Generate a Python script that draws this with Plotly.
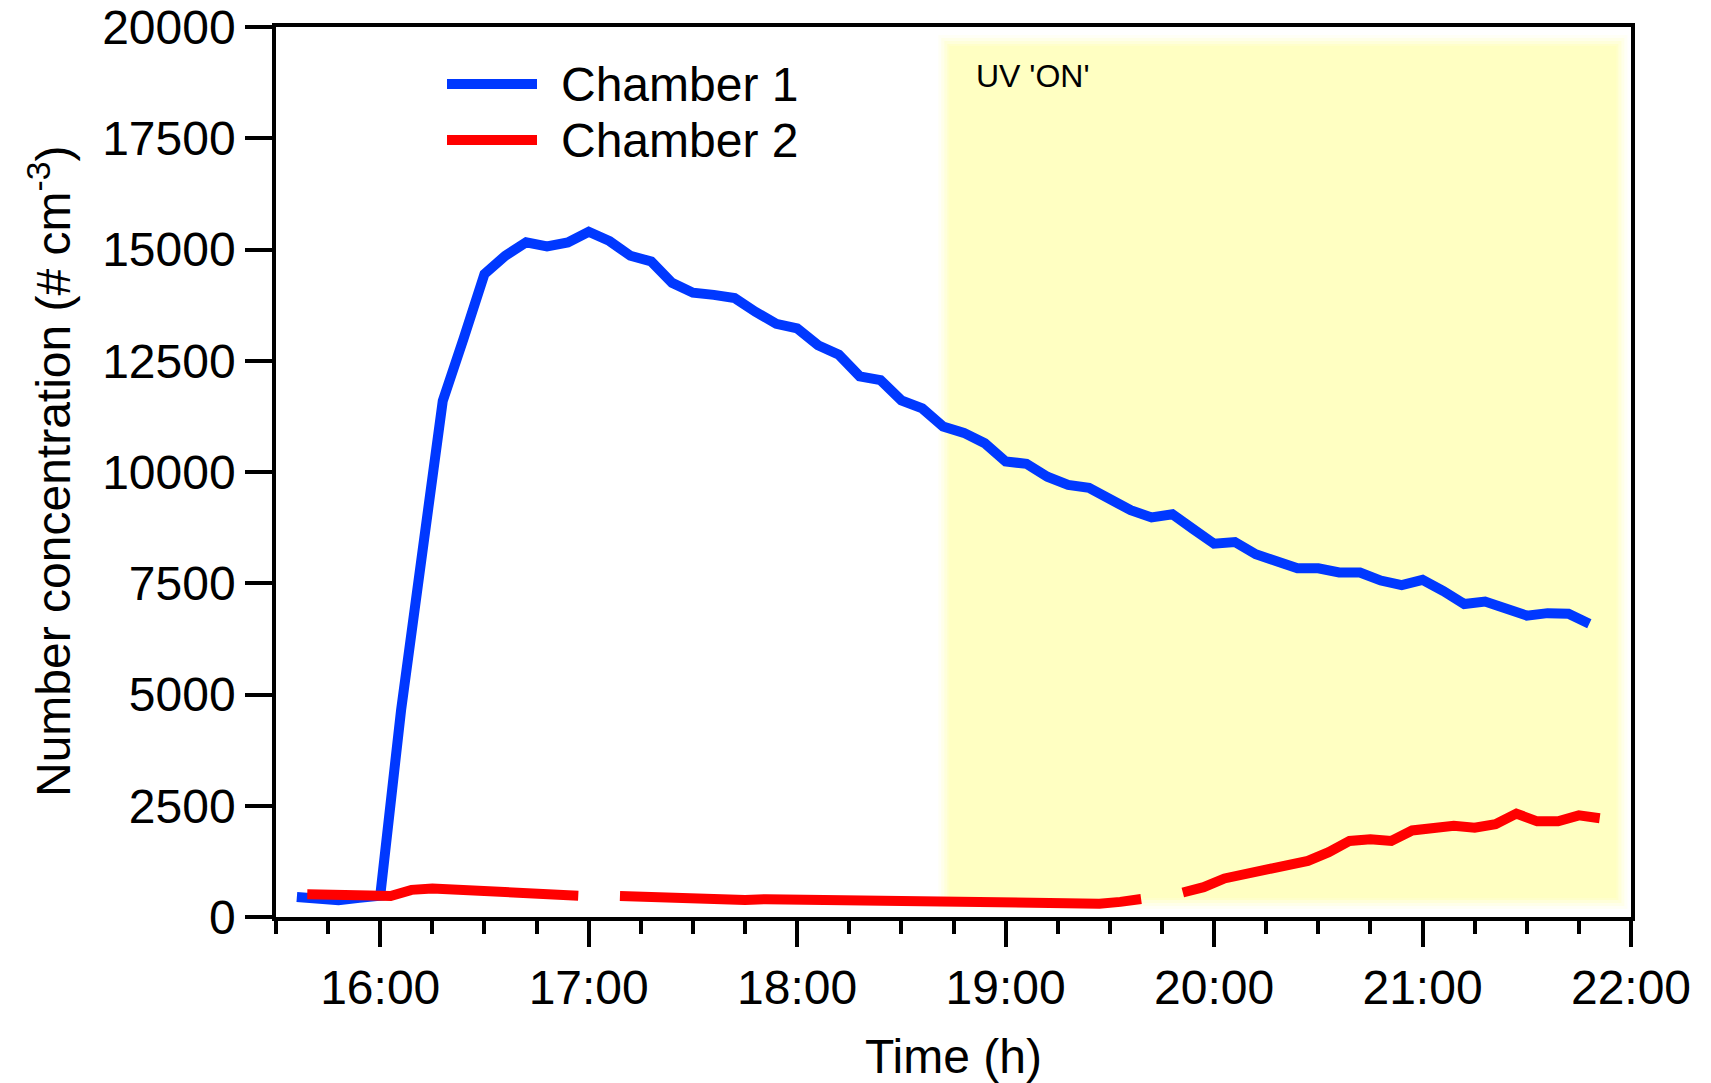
import plotly.graph_objects as go

# ---- data -------------------------------------------------------------
chamber1_times = [
    "15:36", "15:42", "15:48", "15:54",
    "16:00", "16:06", "16:12", "16:18", "16:24", "16:30", "16:36", "16:42", "16:48", "16:54",
    "17:00", "17:06", "17:12", "17:18", "17:24", "17:30", "17:36", "17:42", "17:48", "17:54",
    "18:00", "18:06", "18:12", "18:18", "18:24", "18:30", "18:36", "18:42", "18:48", "18:54",
    "19:00", "19:06", "19:12", "19:18", "19:24", "19:30", "19:36", "19:42", "19:48", "19:54",
    "20:00", "20:06", "20:12", "20:18", "20:24", "20:30", "20:36", "20:42", "20:48", "20:54",
    "21:00", "21:06", "21:12", "21:18", "21:24", "21:30", "21:36", "21:42", "21:48",
]
chamber1_values = [
    450, 410, 375, 430,
    480, 4650, 8150, 11600, 13000, 14450, 14860, 15160, 15070, 15160,
    15400, 15190, 14860, 14730, 14250, 14030, 13980, 13910, 13600, 13330,
    13230, 12850, 12635, 12150, 12065, 11610, 11430, 11020, 10880, 10645,
    10237, 10183, 9893, 9710, 9645, 9387, 9140, 8979, 9050, 8715,
    8388, 8427, 8152, 7994, 7837, 7837, 7742, 7742, 7561, 7458,
    7577, 7325, 7033, 7088, 6955, 6773, 6828, 6813, 6592,
]

chamber2_times = [
    "15:39", "15:45", "15:51", "15:57",
    "16:03", "16:09", "16:15", "16:21", "16:27", "16:33", "16:39", "16:45", "16:51", "16:57",
    "17:03", "17:09", "17:15", "17:21", "17:27", "17:33", "17:39", "17:45", "17:51", "17:57",
    "18:03", "18:09", "18:15", "18:21", "18:27", "18:33", "18:39", "18:45", "18:51", "18:57",
    "19:03", "19:09", "19:15", "19:21", "19:27", "19:33", "19:39", "19:45", "19:51", "19:57",
    "20:03", "20:09", "20:15", "20:21", "20:27", "20:33", "20:39", "20:45", "20:51", "20:57",
    "21:03", "21:09", "21:15", "21:21", "21:27", "21:33", "21:39", "21:45", "21:51",
]
# None marks missing samples (gaps in the record)
chamber2_values = [
    510, 485, 500, 485,
    470, 610, 640, 625, 595, 590, 560, 540, 535, 480,
    None, 470, 450, 440, 420, 410, 400, 380, 400, 395,
    385, 365, 370, 345, 350, 330, 340, 320, 320, 315,
    305, 315, 300, 280, 300, 340, 405, None, 550, 670,
    866, 969, 1047, 1126, 1260, 1457, 1709, 1748, 1709, 1945,
    2008, 2048, 2008, 2087, 2323, 2150, 2150, 2284, 2221,
]

uv_on_period = [18.73, 21.93]          # hours, UV lamps switched on

x_tick_hours = [16, 17, 18, 19, 20, 21, 22]
x_tick_labels = ["16:00", "17:00", "18:00", "19:00", "20:00", "21:00", "22:00"]
y_tick_values = [0, 2500, 5000, 7500, 10000, 12500, 15000, 17500, 20000]

X_RANGE = [15.5, 22.0]
Y_RANGE = [0, 20000]


def to_hours(hhmm):
    h, m = hhmm.split(":")
    return int(h) + int(m) / 60.0


# ---- styling ----------------------------------------------------------
FONT = "Liberation Sans, Arial, Helvetica, sans-serif"
BLUE = "#0038FF"
RED = "#FF0000"
SHADE = "#FFFFC2"
W, H = 1711, 1083
M = dict(l=276, r=80, t=27, b=166)
plot_w = W - M["l"] - M["r"]
plot_h = H - M["t"] - M["b"]
px_x = (X_RANGE[1] - X_RANGE[0]) / plot_w
px_y = (Y_RANGE[1] - Y_RANGE[0]) / plot_h

fig = go.Figure()

fig.add_trace(go.Scatter(
    x=[to_hours(t) for t in chamber1_times], y=chamber1_values,
    mode="lines", name="Chamber 1",
    line=dict(color=BLUE, width=10), showlegend=False,
))
fig.add_trace(go.Scatter(
    x=[to_hours(t) for t in chamber2_times], y=chamber2_values,
    mode="lines", name="Chamber 2", connectgaps=False,
    line=dict(color=RED, width=10), showlegend=False,
))

# UV-on shaded block with a soft edge: a solid core plus faint outer rings
shapes = []
y_lo = 19 * px_y
y_hi = Y_RANGE[1] - 19 * px_y
for grow, op in [(11, 0.15), (8, 0.25), (5, 0.4), (2, 0.6), (0, 1.0)]:
    shapes.append(dict(
        type="rect", xref="x", yref="y", layer="below",
        x0=uv_on_period[0] - grow * px_x, x1=uv_on_period[1] + grow * px_x,
        y0=y_lo - grow * px_y, y1=y_hi + grow * px_y,
        fillcolor=SHADE, opacity=op, line=dict(width=0),
    ))


# legend drawn by hand so the line samples can be long
def px_to_paper(px, py):
    return (px - M["l"]) / plot_w, (H - M["b"] - py) / plot_h


legend_items = [("Chamber 1", BLUE, 84), ("Chamber 2", RED, 140)]
annotations = []
for label, color, py in legend_items:
    x0, yy = px_to_paper(447, py)
    x1, _ = px_to_paper(537, py)
    shapes.append(dict(type="line", xref="paper", yref="paper",
                       x0=x0, x1=x1, y0=yy, y1=yy,
                       line=dict(color=color, width=10)))
    tx, _ = px_to_paper(559, py)
    annotations.append(dict(xref="paper", yref="paper", x=tx, y=yy,
                            xanchor="left", yanchor="middle", showarrow=False,
                            text=label, font=dict(family=FONT, size=48, color="black")))

ux, uy = px_to_paper(974, 76)
annotations.append(dict(xref="paper", yref="paper", x=ux, y=uy,
                        xanchor="left", yanchor="middle", showarrow=False,
                        text="UV 'ON'", font=dict(family=FONT, size=32, color="black")))

tx, ty = px_to_paper(953, 1056)
annotations.append(dict(xref="paper", yref="paper", x=tx, y=ty,
                        xanchor="center", yanchor="middle", showarrow=False,
                        text="Time (h)", font=dict(family=FONT, size=48, color="black")))
yx, yy = px_to_paper(50, 472)
annotations.append(dict(xref="paper", yref="paper", x=yx, y=yy, textangle=-90,
                        xanchor="center", yanchor="middle", showarrow=False,
                        text="Number concentration (# cm<sup>-3</sup>)",
                        font=dict(family=FONT, size=48, color="black")))

fig.update_layout(
    width=W, height=H, margin=M,
    paper_bgcolor="white", plot_bgcolor="white",
    shapes=shapes, annotations=annotations,
    font=dict(family=FONT, size=48, color="black"),
)

fig.update_xaxes(
    range=X_RANGE, tickmode="array", tickvals=x_tick_hours, ticktext=x_tick_labels,
    ticks="outside", ticklen=26, tickwidth=3.5, tickcolor="black",
    minor=dict(dtick=0.25, tick0=15.5, ticks="outside", ticklen=13,
               tickwidth=3.5, tickcolor="black", showgrid=False),
    showline=True, linewidth=3.5, linecolor="black", mirror=True,
    showgrid=False, zeroline=False, ticklabelstandoff=0, automargin=False,
    tickfont=dict(family=FONT, size=48, color="black"),
)
fig.update_yaxes(
    range=Y_RANGE, tickmode="array", tickvals=y_tick_values,
    ticktext=[str(v) for v in y_tick_values],
    ticks="outside", ticklen=27, tickwidth=3.5, tickcolor="black",
    showline=True, linewidth=3.5, linecolor="black", mirror=True,
    showgrid=False, zeroline=False, ticklabelstandoff=0, automargin=False,
    tickfont=dict(family=FONT, size=48, color="black"),
)

fig.write_html("out.html")
